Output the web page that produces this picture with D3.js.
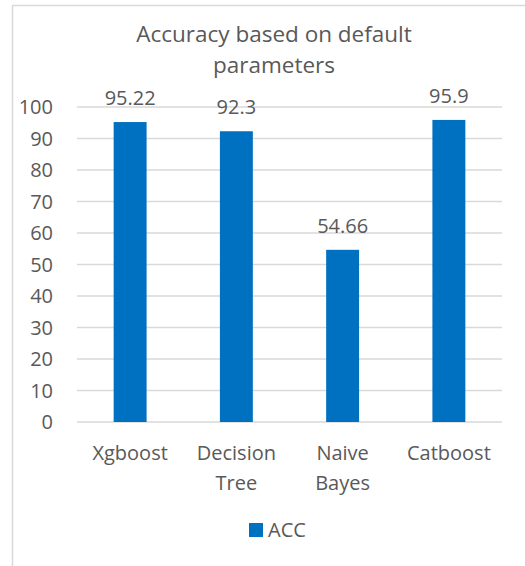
<!DOCTYPE html>
<meta charset="utf-8">
<style>
body {
  margin: 0;
  overflow: hidden;
  background: #fff;
}
text {
  font-family: "Open Sans", sans-serif;
  fill: #595959;
}
.grid line {
  stroke: #d9d9d9;
  stroke-width: 1.5px;
}
</style>
<svg width="525" height="566"></svg>
<script src="https://d3js.org/d3.v7.min.js"></script>
<script>
const categories = ["Xgboost", "Decision Tree", "Naive Bayes", "Catboost"];
const accValues = [95.22, 92.3, 54.66, 95.9];
const yTicks = [0, 10, 20, 30, 40, 50, 60, 70, 80, 90, 100];
const seriesName = "ACC";
const titleLines = ["Accuracy based on default", "parameters"];

const svg = d3.select("svg");
const width = 525, height = 566;
const margin = {top: 107, right: 23, bottom: 144, left: 77};
const blue = "#0070c0";
const fs = 20;

// chart frame
svg.append("rect")
  .attr("x", 12.5).attr("y", 5.5)
  .attr("width", 600).attr("height", 600)
  .attr("fill", "#fff")
  .attr("stroke", "#d9d9d9")
  .attr("stroke-width", 1.5);

const x = d3.scaleBand()
  .domain(categories)
  .range([margin.left, width - margin.right])
  .padding(0);

const y = d3.scaleLinear()
  .domain([0, 100])
  .range([height - margin.bottom, margin.top]);

// gridlines
svg.append("g")
  .attr("class", "grid")
  .selectAll("line")
  .data(yTicks)
  .join("line")
  .attr("x1", margin.left)
  .attr("x2", width - margin.right)
  .attr("y1", d => y(d))
  .attr("y2", d => y(d));

// y axis labels
svg.append("g")
  .selectAll("text")
  .data(yTicks)
  .join("text")
  .attr("x", 53)
  .attr("y", d => y(d))
  .attr("dy", "0.35em")
  .attr("text-anchor", "end")
  .attr("font-size", fs)
  .text(d => d);

const barW = x.bandwidth() * 0.31;

svg.append("g")
  .selectAll("rect")
  .data(accValues)
  .join("rect")
  .attr("x", (d, i) => x(categories[i]) + (x.bandwidth() - barW) / 2)
  .attr("y", d => y(d))
  .attr("width", barW)
  .attr("height", d => y(0) - y(d))
  .attr("fill", blue);

// value labels
svg.append("g")
  .selectAll("text")
  .data(accValues)
  .join("text")
  .attr("x", (d, i) => x(categories[i]) + x.bandwidth() / 2)
  .attr("y", d => y(d) - 17)
  .attr("text-anchor", "middle")
  .attr("font-size", fs)
  .text(d => d);

// category labels (wrapped)
const cat = svg.append("g")
  .selectAll("text")
  .data(categories)
  .join("text")
  .attr("x", d => x(d) + x.bandwidth() / 2)
  .attr("y", 460)
  .attr("text-anchor", "middle")
  .attr("font-size", fs);
cat.each(function(d) {
  const t = d3.select(this);
  d.split(" ").forEach((w, i) => {
    t.append("tspan")
      .attr("x", x(d) + x.bandwidth() / 2)
      .attr("dy", i === 0 ? 0 : 30)
      .text(w);
  });
});

// title
svg.append("text")
  .attr("text-anchor", "middle")
  .attr("font-size", 22.5)
  .selectAll("tspan")
  .data(titleLines)
  .join("tspan")
  .attr("x", 274)
  .attr("y", (d, i) => 42 + i * 31)
  .text(d => d);

// legend
svg.append("rect")
  .attr("x", 249).attr("y", 523)
  .attr("width", 14).attr("height", 14)
  .attr("fill", blue);
svg.append("text")
  .attr("x", 268)
  .attr("y", 537)
  .attr("font-size", fs)
  .text(seriesName);
</script>
